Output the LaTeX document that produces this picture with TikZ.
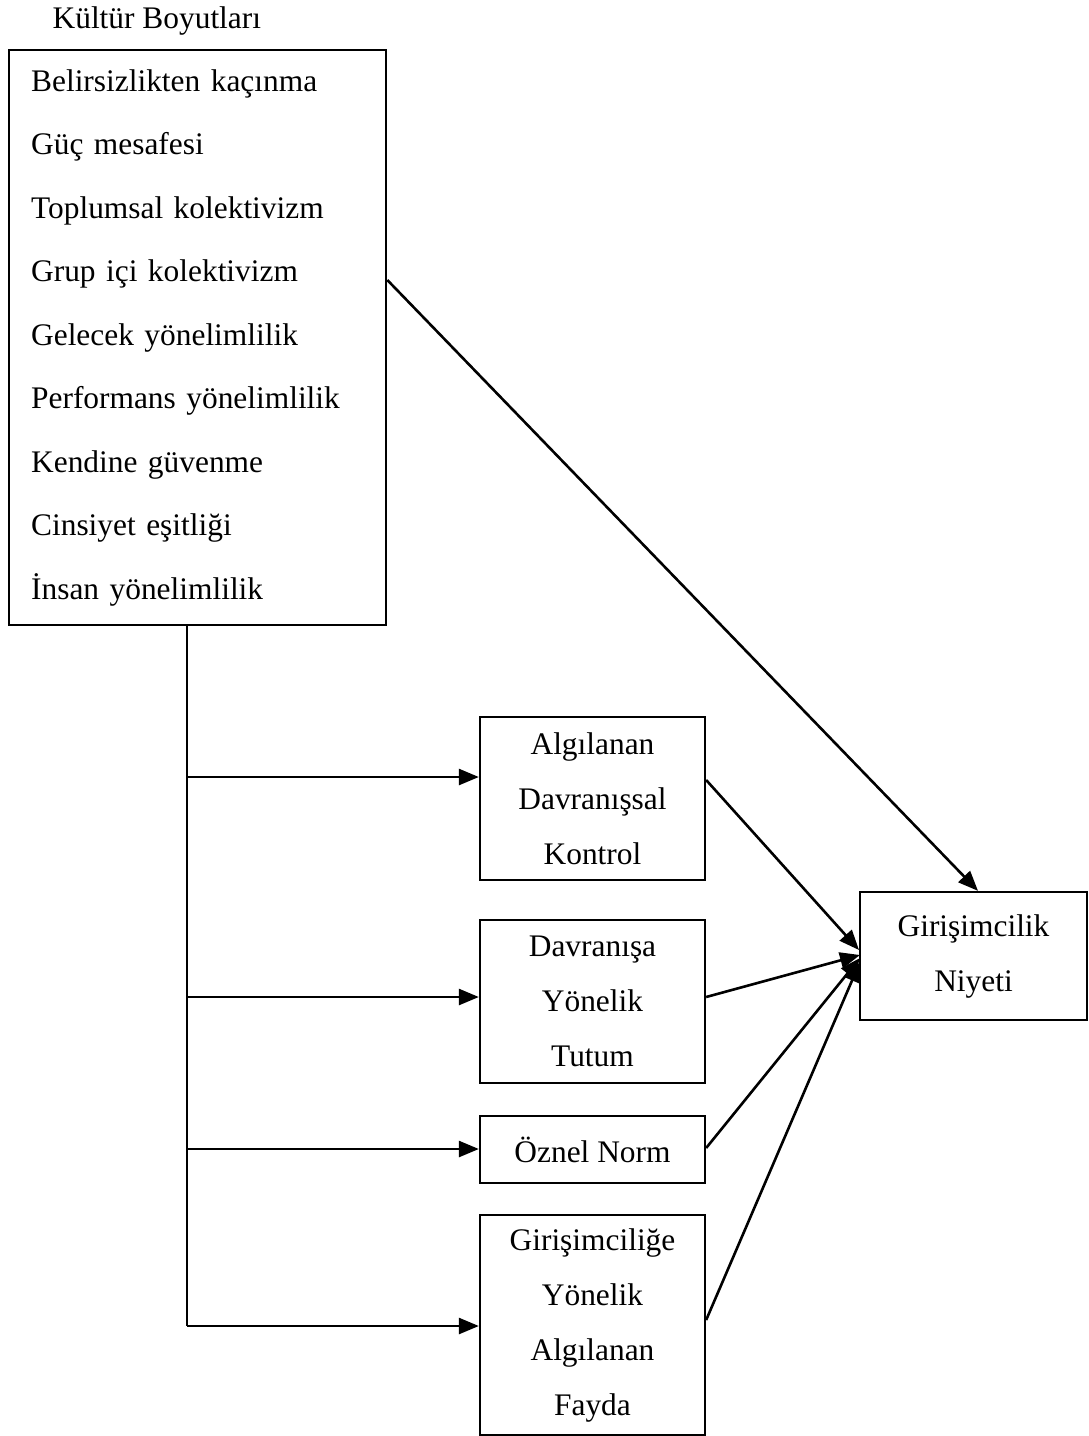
\documentclass[tikz,border=0pt]{standalone}
\usepackage{fontspec}
\setmainfont{Liberation Serif}
\usetikzlibrary{arrows.meta,calc}
\begin{document}
\begin{tikzpicture}[x=1pt,y=-1pt,
  line width=2.6pt,
  txt/.style={font=\fontsize{31.4}{55}\selectfont},
  box/.style={draw, line width=2.3pt, txt, align=center, inner sep=0pt, minimum width=225},
  arr/.style={-{Triangle[length=20pt,width=16pt]}}]
\useasboundingbox (0,0) rectangle (1089,1436);

% heading above the dimension list
\node[txt, anchor=west] (title) at (48,21) {Kültür Boyutları};

% list of culture dimensions
\node[draw, line width=2.3pt, anchor=north west, minimum width=377, minimum height=575,
      text width=333, inner xsep=22, inner ysep=0pt, align=left,
      font=\fontsize{31.4}{63.5}\selectfont] (kb) at (8,49)
  {Belirsizlikten kaçınma\\Güç mesafesi\\Toplumsal kolektivizm\\Grup içi kolektivizm\\Gelecek yönelimlilik\\Performans yönelimlilik\\Kendine güvenme\\Cinsiyet eşitliği\\İnsan yönelimlilik};

% mediating constructs
\node[box, minimum height=163] (adk) at (592.5,798.5) {Algılanan\\Davranışsal\\Kontrol};
\node[box, minimum height=163] (dyt) at (592.5,1001.5) {Davranışa\\Yönelik\\Tutum};
\node[box, minimum height=67] (on) at (592.5,1149.5) {Öznel Norm};
\node[box, minimum height=220] (gyaf) at (592.5,1325) {Girişimciliğe\\Yönelik\\Algılanan\\Fayda};

% outcome
\node[box, minimum width=227, minimum height=128] (gn) at (973.5,956) {Girişimcilik\\Niyeti};

% trunk line from the dimension box
\coordinate (ttop) at (187,624);
\coordinate (tbot) at (187,1326);
\draw (ttop) -- (tbot);

\draw[arr] (187,777) -- (adk.west |- 0,777);
\draw[arr] (187,997) -- (dyt.west |- 0,997);
\draw[arr] (187,1149) -- (on.west |- 0,1149);
\draw[arr] (187,1326) -- (gyaf.west |- 0,1326);

% paths into the intention box
\coordinate (g1) at (859,950);
\coordinate (g2) at (860,955);
\coordinate (g3) at (860,958);
\coordinate (g4) at (860,962);
\draw[arr] (kb.east |- 0,280) -- (gn.north -| 978,0);
\draw[arr] (adk.east |- 0,780) -- (g1);
\draw[arr] (dyt.east |- 0,997) -- (g2);
\draw[arr] (on.east |- 0,1148) -- (g3);
\draw[arr] (gyaf.east |- 0,1320) -- (g4);
\end{tikzpicture}
\end{document}
